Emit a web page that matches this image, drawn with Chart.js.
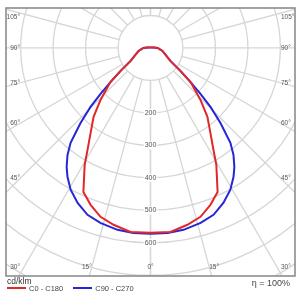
<!DOCTYPE html>
<html>
<head>
<meta charset="utf-8">
<script src="https://cdn.jsdelivr.net/npm/chart.js@4.4.1/dist/chart.umd.min.js"></script>
<style>
  html, body { margin: 0; padding: 0; background: #fff; }
  #wrap { position: relative; width: 300px; height: 300px; font-family: "Liberation Sans", Arial, sans-serif; }
  #wrap canvas { position: absolute; left: 0; top: 0; }
  .foot { position: absolute; color: #333; white-space: nowrap; line-height: 1; }
  .sw { display: inline-block; width: 19px; height: 2px; vertical-align: middle; margin-right: 3px; position: relative; top: -1px; }
</style>
</head>
<body>
<div id="wrap">
  <canvas id="lumChart" width="300" height="300"></canvas>
  <div class="foot" style="left:7px;top:277px;font-size:8.5px">cd/klm</div>
  <div class="foot" style="left:7px;top:285px;font-size:7.5px;color:#444">
    <span class="sw" style="background:#e02828"></span>C0 - C180
    <span class="sw" style="background:#2626d8;margin-left:8px"></span>C90 - C270
  </div>
  <div class="foot" style="right:10px;top:279px;font-size:9px;color:#444">η = 100%</div>
</div>

<script>
// ---- data (cd/klm), angle measured from nadir ----
const angleTicks = [0, 15, 30, 45, 60, 75, 90, 105, 120, 135, 150, 165, 180];
const labelAngles = [0, 15, 30, 45, 60, 75, 90, 105];
const ringValues = [100, 200, 300, 400, 500, 600, 700, 800, 900];
const ringLabels = [200, 300, 400, 500, 600];

const c0Angles = [0, 6.2, 11.8, 16.5, 20.9, 25, 29.4, 31.7, 35.2, 39.6, 43.9, 49.6, 52.5, 57, 76, 90, 100, 120, 180];
const c0Values = [569, 570, 556, 542, 517, 489, 413, 369, 320, 275, 222, 162, 116, 73, 38, 22, 10, 3, 0];

const c90Angles = [0, 5.3, 10.3, 16, 20.7, 25.2, 29.4, 32.8, 35.2, 37.8, 40.1, 43, 45.5, 47.4, 49.6, 52.5, 57, 76, 90, 100, 120, 180];
const c90Values = [572, 572, 569, 560, 549, 527, 501, 472, 448, 417, 382, 316, 259, 209, 162, 116, 73, 38, 22, 10, 3, 0];

const RAD = Math.PI / 180;

// polar -> cartesian, mirrored for both half planes
function toCurve(angles, values) {
  const pts = [];
  for (let i = angles.length - 1; i >= 0; i--) {
    const t = angles[i] * RAD;
    pts.push({ x: -values[i] * Math.sin(t), y: -values[i] * Math.cos(t) });
  }
  for (let i = 1; i < angles.length; i++) {
    const t = angles[i] * RAD;
    pts.push({ x: values[i] * Math.sin(t), y: -values[i] * Math.cos(t) });
  }
  return pts;
}

const polarGrid = {
  id: 'polarGrid',
  beforeDatasetsDraw(chart) {
    const { ctx, chartArea: a, scales: { x, y } } = chart;
    const cx = x.getPixelForValue(0), cy = y.getPixelForValue(0);
    const rad = v => x.getPixelForValue(v) - cx;

    ctx.save();
    ctx.beginPath();
    ctx.rect(a.left, a.top, a.right - a.left, a.bottom - a.top);
    ctx.clip();
    ctx.strokeStyle = '#d6d6d6';
    ctx.lineWidth = 1.3;

    ringValues.forEach(v => {
      ctx.beginPath();
      ctx.arc(cx, cy, rad(v), 0, Math.PI * 2);
      ctx.stroke();
    });

    const r0 = rad(ringValues[0]);
    angleTicks.forEach(deg => {
      const t = deg * RAD;
      [-1, 1].forEach(side => {
        const dx = side * Math.sin(t), dy = Math.cos(t);
        ctx.beginPath();
        ctx.moveTo(cx + r0 * dx, cy + r0 * dy);
        ctx.lineTo(cx + 600 * dx, cy + 600 * dy);
        ctx.stroke();
      });
    });

    // intensity labels along nadir line
    ctx.font = '7px "Liberation Sans", Arial, sans-serif';
    ctx.textAlign = 'center';
    ctx.textBaseline = 'middle';
    ringLabels.forEach(v => {
      const py = y.getPixelForValue(-v);
      const w = ctx.measureText(String(v)).width;
      ctx.fillStyle = '#fff';
      ctx.fillRect(cx - w / 2 - 1, py - 4, w + 2, 8);
      ctx.fillStyle = '#555';
      ctx.fillText(String(v), cx, py);
    });
    ctx.restore();
  },
  afterDraw(chart) {
    const { ctx, chartArea: a, scales: { x, y } } = chart;
    const cx = x.getPixelForValue(0), cy = y.getPixelForValue(0);

    ctx.save();
    ctx.strokeStyle = '#8c8c8c';
    ctx.lineWidth = 1.6;
    ctx.strokeRect(a.left, a.top, a.right - a.left, a.bottom - a.top);

    ctx.font = '6.5px "Liberation Sans", Arial, sans-serif';
    ctx.fillStyle = '#555';
    ctx.textBaseline = 'middle';
    const side = a.right - cx - 14;
    const topY = a.top + 9, botY = a.bottom - 9;
    labelAngles.forEach(deg => {
      const t = deg * RAD;
      const txt = deg + '°';
      if (deg === 0) {
        ctx.textAlign = 'center';
        ctx.fillText(txt, cx, botY);
        return;
      }
      let lx, ly;
      if (deg >= 30) {
        lx = side;
        ly = Math.min(botY, Math.max(topY, cy + side * Math.cos(t) / Math.sin(t)));
      } else {
        ly = botY;
        lx = (botY - cy) * Math.tan(t);
      }
      ctx.textAlign = 'right';
      ctx.fillText(txt, cx - lx, ly);
      ctx.textAlign = 'left';
      ctx.fillText(txt, cx + lx, ly);
    });
    ctx.restore();
  }
};

new Chart(document.getElementById('lumChart'), {
  type: 'scatter',
  data: {
    datasets: [
      {
        label: 'C0 - C180',
        data: toCurve(c0Angles, c0Values),
        showLine: true,
        borderColor: '#e02828',
        borderWidth: 2,
        pointRadius: 0,
        tension: 0
      },
      {
        label: 'C90 - C270',
        data: toCurve(c90Angles, c90Values),
        showLine: true,
        borderColor: '#2626d8',
        borderWidth: 2,
        pointRadius: 0,
        tension: 0
      }
    ]
  },
  options: {
    responsive: false,
    animation: false,
    layout: { padding: { left: 6, top: 8, right: 5, bottom: 24 } },
    plugins: { legend: { display: false }, tooltip: { enabled: false } },
    scales: {
      x: { type: 'linear', min: -445, max: 445, display: false },
      y: { type: 'linear', min: -702, max: 123, display: false }
    }
  },
  plugins: [polarGrid]
});
</script>
</body>
</html>
